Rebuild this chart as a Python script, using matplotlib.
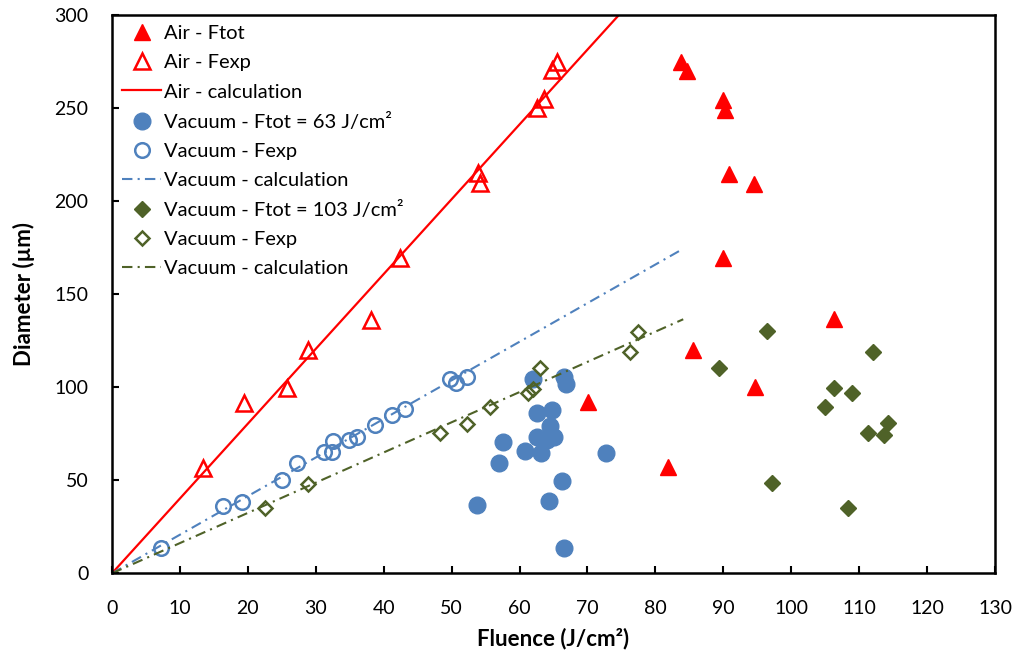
import matplotlib
matplotlib.use("Agg")
import matplotlib.pyplot as plt

plt.rcParams['font.family'] = ['Lato', 'DejaVu Sans']

# Air - Ftot (filled red triangles)
air_ftot_x = [83.75, 84.6, 90.0, 90.3, 90.9, 94.5, 90.0, 106.3, 85.6, 94.6, 70.1, 81.9]
air_ftot_y = [274.5, 269.7, 254.5, 249.1, 214.5, 209.3, 169.4, 136.6, 120.1, 100.0, 92.1, 57.2]
# Air - Fexp (open red triangles)
air_fexp_x = [13.4, 19.4, 25.7, 28.9, 38.1, 42.4, 53.9, 54.2, 62.5, 63.6, 64.8, 65.5]
air_fexp_y = [56.5, 91.4, 99.5, 120.0, 136.2, 169.4, 215.0, 209.7, 250.0, 254.8, 270.2, 274.5]
# Air - calculation
air_calc_x = [0, 75.0]
air_calc_y = [0, 301.5]

# Vacuum - Ftot = 63 J/cm2 (filled blue circles)
vac63_ftot_x = [62.0, 66.5, 66.8, 62.6, 64.8, 64.5, 65.0, 62.6, 64.0, 57.6, 60.8, 63.1,
                72.8, 57.0, 66.2, 64.4, 53.8, 66.6]
vac63_ftot_y = [104.3, 105.7, 101.8, 86.0, 87.8, 79.2, 73.4, 73.1, 71.7, 70.6, 65.9, 64.8,
                64.8, 59.1, 49.8, 38.9, 36.7, 13.4]
# Vacuum - Fexp (open blue circles)
vac63_fexp_x = [7.2, 16.4, 19.1, 25.0, 27.3, 31.2, 32.4, 32.6, 34.9, 36.0, 38.7, 41.2,
                43.2, 49.8, 50.7, 52.2]
vac63_fexp_y = [13.4, 36.2, 38.5, 50.2, 59.1, 65.4, 65.4, 71.1, 71.7, 73.4, 79.7, 85.1,
                88.2, 104.3, 102.2, 105.7]
# Vacuum - calculation (63)
vac63_calc_x = [0, 84.0]
vac63_calc_y = [0, 174.2]

# Vacuum - Ftot = 103 J/cm2 (filled green diamonds)
vac103_ftot_x = [96.5, 89.4, 112.0, 106.3, 108.9, 104.9, 111.3, 113.6, 114.2, 97.2, 108.4]
vac103_ftot_y = [130.4, 110.2, 119.1, 99.5, 97.1, 89.6, 75.6, 74.4, 80.6, 48.4, 35.3]
# Vacuum - Fexp (open green diamonds)
vac103_fexp_x = [22.5, 28.9, 48.3, 52.2, 55.6, 61.3, 62.0, 63.0, 76.3, 77.5]
vac103_fexp_y = [34.9, 48.0, 75.3, 80.3, 89.6, 96.8, 98.9, 110.2, 119.1, 129.9]
# Vacuum - calculation (103)
vac103_calc_x = [0, 84.1]
vac103_calc_y = [0, 136.5]

x_ticks = list(range(0, 131, 10))
y_ticks = list(range(0, 301, 50))

RED = '#FF0000'
BLUE = '#4F81BD'
GREEN = '#4F6228'

fig = plt.figure(figsize=(10.19, 6.59), dpi=100)
ax = fig.add_axes([112 / 1019, 1 - 573.3 / 659, (995 - 112) / 1019, (573.3 - 15) / 659])

dashdot = (0, (5, 2.5, 1, 2.5))

ax.plot(air_ftot_x, air_ftot_y, linestyle='none', marker='^', ms=11.5, color=RED,
        mec=RED, label='Air - Ftot')
ax.plot(air_fexp_x, air_fexp_y, linestyle='none', marker='^', ms=11, mfc='none', mec=RED,
        mew=1.8, label='Air - Fexp')
ax.plot(air_calc_x, air_calc_y, color=RED, lw=1.6, label='Air - calculation')
ax.plot(vac63_ftot_x, vac63_ftot_y, linestyle='none', marker='o', ms=12, color=BLUE,
        mec=BLUE, label='Vacuum - Ftot = 63 J/cm²')
ax.plot(vac63_fexp_x, vac63_fexp_y, linestyle='none', marker='o', ms=10.5, mfc='none',
        mec=BLUE, mew=1.8, label='Vacuum - Fexp')
ax.plot(vac63_calc_x, vac63_calc_y, color=BLUE, lw=1.5, linestyle=dashdot,
        label='Vacuum - calculation')
ax.plot(vac103_ftot_x, vac103_ftot_y, linestyle='none', marker='D', ms=8, color=GREEN,
        mec=GREEN, label='Vacuum - Ftot = 103 J/cm²')
ax.plot(vac103_fexp_x, vac103_fexp_y, linestyle='none', marker='D', ms=7, mfc='none',
        mec=GREEN, mew=1.8, label='Vacuum - Fexp')
ax.plot(vac103_calc_x, vac103_calc_y, color=GREEN, lw=1.5, linestyle=dashdot,
        label='Vacuum - calculation')

ax.set_xlim(0, 130)
ax.set_ylim(0, 300)
ax.set_xticks(x_ticks)
ax.set_yticks(y_ticks)
ax.tick_params(direction='in', length=5, width=1.5, labelsize=14)
ax.tick_params(axis='x', pad=19)
ax.tick_params(axis='y', pad=17)
for sp in ax.spines.values():
    sp.set_linewidth(1.8)
    sp.set_color('black')

ax.set_xlabel('Fluence (J/cm²)', fontsize=16, fontweight='bold', labelpad=8)
ax.set_ylabel('Diameter (µm)', fontsize=16, fontweight='bold', labelpad=14)

leg = ax.legend(loc='upper left', frameon=False, fontsize=14.5, handlelength=1.95,
                handletextpad=0.15, labelspacing=0.6, borderaxespad=0.1,
                bbox_to_anchor=(0.0, 1.0))

fig.savefig('out.png', dpi=100)
